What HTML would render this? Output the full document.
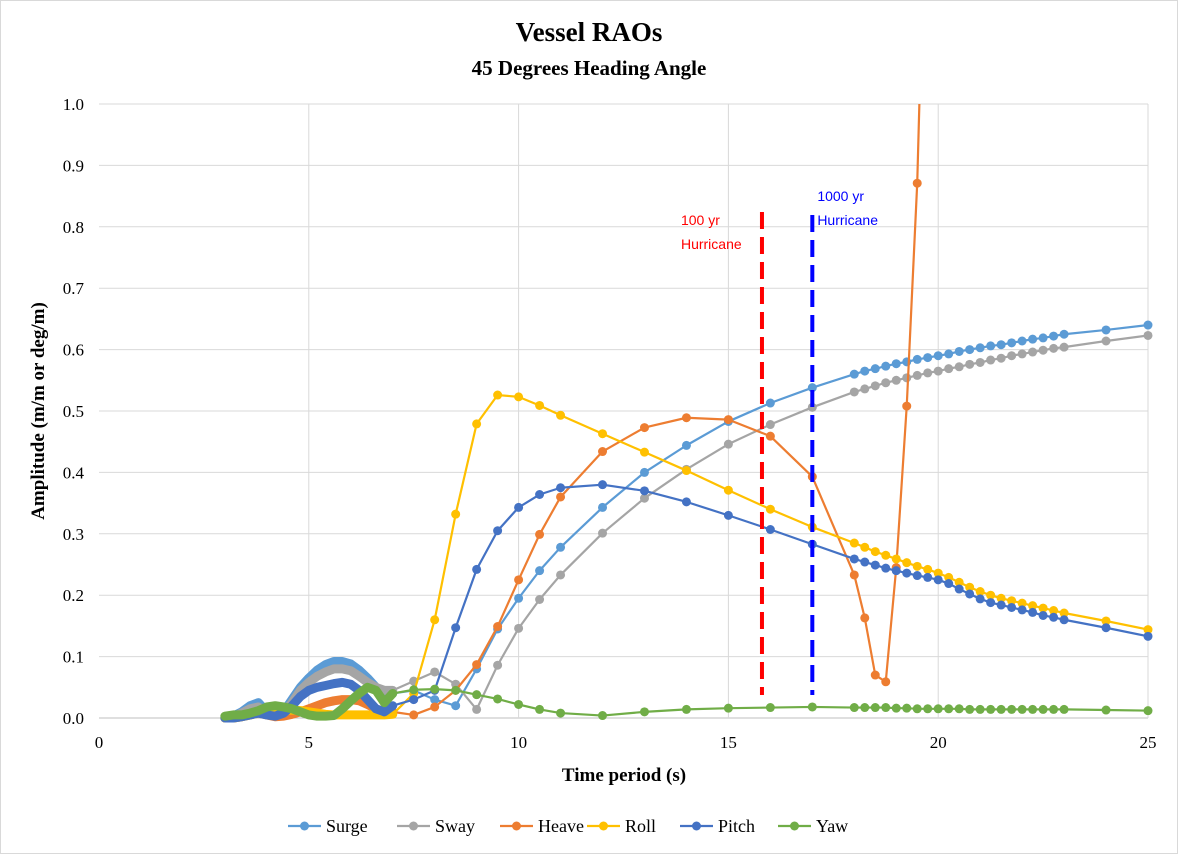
<!DOCTYPE html>
<html><head><meta charset="utf-8"><style>
body{margin:0;background:#fff}
svg{display:block;font-family:"Liberation Serif",serif}
</style></head><body>
<svg id="chart" width="1179" height="855">
<rect x="0.5" y="0.5" width="1177" height="853" fill="#fff" stroke="#d9d9d9"/>
<text x="589" y="41" text-anchor="middle" font-size="27" font-weight="bold">Vessel RAOs</text>
<text x="589" y="75" text-anchor="middle" font-size="21" font-weight="bold">45 Degrees Heading Angle</text>
<g id="grid"></g><g id="axes"></g><g id="series"></g><g id="annot"></g>
<text x="624" y="781" text-anchor="middle" font-size="19" font-weight="bold">Time period (s)</text>
<text transform="translate(44,411) rotate(-90)" text-anchor="middle" font-size="19" font-weight="bold">Amplitude (m/m or deg/m)</text>
<g id="legend"></g>
</svg>
<script>
const dense=[3.0,3.2,3.4,3.6,3.8,4.0,4.2,4.4,4.6,4.8,5.0,5.2,5.4,5.6,5.8,6.0,6.2,6.4,6.6,6.8,7.0];
const mid=[7.5,8,8.5,9,9.5,10,10.5,11,12,13,14,15,16,17];
const tail=[18,18.25,18.5,18.75,19,19.25,19.5,19.75,20,20.25,20.5,20.75,21,21.25,21.5,21.75,22,22.25,22.5,22.75,23,24,25];
const periods=dense.concat(mid,tail);
const surge=[0,0.003,0.01,0.02,0.025,0.01,0.005,0.01,0.03,0.05,0.065,0.078,0.087,0.092,0.092,0.088,0.078,0.065,0.05,0.04,0.04,
0.045,0.03,0.02,0.08,0.145,0.195,0.24,0.278,0.343,0.4,0.444,0.483,0.513,0.538,
0.560,0.565,0.569,0.573,0.577,0.580,0.584,0.587,0.590,0.593,0.597,0.600,0.603,0.606,0.608,0.611,0.614,0.617,0.619,0.622,0.625,0.632,0.64];
const sway=[0,0.002,0.008,0.015,0.018,0.01,0.005,0.008,0.025,0.045,0.058,0.068,0.075,0.08,0.08,0.077,0.068,0.058,0.05,0.045,0.045,
0.06,0.075,0.055,0.014,0.086,0.146,0.193,0.233,0.301,0.358,0.405,0.446,0.478,0.506,
0.531,0.536,0.541,0.546,0.550,0.554,0.558,0.562,0.565,0.569,0.572,0.576,0.579,0.583,0.586,0.590,0.593,0.596,0.599,0.602,0.604,0.614,0.623];
const heave=[0,0,0.002,0.005,0.008,0.005,0.002,0.003,0.006,0.01,0.015,0.02,0.025,0.028,0.03,0.03,0.028,0.022,0.015,0.01,0.01,
0.005,0.018,0.045,0.087,0.149,0.225,0.299,0.36,0.434,0.473,0.489,0.486,0.459,0.393,
0.233,0.163,0.07,0.059,0.245,0.508,0.871,1.5];
const roll=[0,0,0.002,0.005,0.008,0.01,0.012,0.012,0.013,0.012,0.01,0.008,0.006,0.005,0.005,0.005,0.005,0.005,0.005,0.005,0.006,
0.04,0.16,0.332,0.479,0.526,0.523,0.509,0.493,0.463,0.433,0.403,0.371,0.34,0.311,
0.285,0.278,0.271,0.265,0.259,0.253,0.247,0.242,0.236,0.229,0.221,0.213,0.206,0.200,0.195,0.191,0.187,0.183,0.179,0.175,0.171,0.158,0.144];
const pitch=[0,0,0.002,0.005,0.008,0.005,0.003,0.008,0.02,0.035,0.045,0.05,0.053,0.056,0.058,0.055,0.045,0.03,0.015,0.01,0.02,
0.03,0.045,0.147,0.242,0.305,0.343,0.364,0.375,0.38,0.37,0.352,0.33,0.307,0.283,
0.259,0.254,0.249,0.244,0.240,0.236,0.232,0.229,0.225,0.219,0.210,0.202,0.194,0.188,0.184,0.180,0.176,0.172,0.167,0.164,0.160,0.147,0.133];
const yaw=[0.003,0.005,0.005,0.008,0.012,0.018,0.02,0.018,0.015,0.01,0.005,0.003,0.003,0.004,0.015,0.028,0.04,0.05,0.045,0.025,0.04,
0.046,0.047,0.045,0.038,0.031,0.022,0.014,0.008,0.004,0.01,0.014,0.016,0.017,0.018,
0.017,0.017,0.017,0.017,0.016,0.016,0.015,0.015,0.015,0.015,0.015,0.014,0.014,0.014,0.014,0.014,0.014,0.014,0.014,0.014,0.014,0.013,0.012];
const seriesNames=["Surge","Sway","Heave","Roll","Pitch","Yaw"];
const seriesColors=["#5b9bd5","#a5a5a5","#ed7d31","#ffc000","#4472c4","#70ad47"];
const xTicks=[0,5,10,15,20,25];
const yTicks=[0,0.1,0.2,0.3,0.4,0.5,0.6,0.7,0.8,0.9,1.0];
const markers=[{x:15.8,label1:"100 yr",label2:"Hurricane",color:"#ff0000"},{x:17.0,label1:"1000 yr",label2:"Hurricane",color:"#0000ff"}];

const NS="http://www.w3.org/2000/svg";
const L=99,R=1148,T=104,B=718;
const X=v=>L+(v-0)/(25-0)*(R-L);
const Y=v=>B-(v-0)/(1-0)*(B-T);
function mk(tag,attrs,parent){const e=document.createElementNS(NS,tag);for(const k in attrs)e.setAttribute(k,attrs[k]);parent.appendChild(e);return e;}
const grid=document.getElementById('grid'),axes=document.getElementById('axes');
yTicks.forEach(t=>{
 const l=mk('line',{x1:L,x2:R,y1:Y(t),y2:Y(t),stroke:t===0?'#bfbfbf':'#d9d9d9','stroke-width':1},grid);
 
 
 const tx=mk('text',{x:L-15,y:Y(t)+6,'text-anchor':'end','font-size':17},axes);
 tx.textContent=t.toFixed(1);
 
 
});
xTicks.forEach(t=>{
 if(t>0){const l=mk('line',{x1:X(t),x2:X(t),y1:T,y2:B,stroke:'#d9d9d9','stroke-width':1},grid);
 
 }
 const tx=mk('text',{x:X(t),y:B+30,'text-anchor':'middle','font-size':17},axes);
 tx.textContent=t;
 
 
});
const sg=document.getElementById('series');
mk('clipPath',{id:'clip'},sg).appendChild(document.createElementNS(NS,'rect'));
const cr=sg.querySelector('#clip rect');cr.setAttribute('x',L-10);cr.setAttribute('y',T);cr.setAttribute('width',R-L+20);cr.setAttribute('height',B-T+20);
const data=[surge,sway,heave,roll,pitch,yaw];
data.forEach((vals,i)=>{
 const g=mk('g',{'clip-path':'url(#clip)'},sg);
 
 
 const pts=vals.map((v,j)=>X(periods[j])+','+Y(v)).join(' ');
 const pl=mk('polyline',{points:pts,fill:'none',stroke:seriesColors[i],'stroke-width':2.2,'stroke-linejoin':'round'},g);
 
 
 const dpts=vals.slice(0,dense.length).map((v,j)=>X(periods[j])+','+Y(v)).join(' ');
 const dl=mk('polyline',{points:dpts,fill:'none',stroke:seriesColors[i],'stroke-width':9,'stroke-linejoin':'round','stroke-linecap':'round'},g);
 
 
 vals.forEach((v,j)=>{
  if(j<dense.length)return;
  const c=mk('circle',{cx:X(periods[j]),cy:Y(v),r:4.5,fill:seriesColors[i]},g);
  
  
 });
});
const an=document.getElementById('annot');
markers.forEach((m,i)=>{
 const l=mk('line',{x1:X(m.x),x2:X(m.x),y1:i?215:212,y2:695,stroke:m.color,'stroke-width':4,'stroke-dasharray':'17,8'},an);
 
 
 const lx=i?X(m.x)+5:X(m.x)-81, ly=i?201:225;
 const t1=mk('text',{x:lx,y:ly,fill:m.color,'font-size':14,'font-family':'Liberation Sans, sans-serif'},an);
 t1.textContent=m.label1;
 
 
 const t2=mk('text',{x:lx,y:ly+24,fill:m.color,'font-size':14,'font-family':'Liberation Sans, sans-serif'},an);
 t2.textContent=m.label2;
 
 
});
const lg=document.getElementById('legend');
const lx=[288,397,500,587,680,778];
seriesNames.forEach((n,i)=>{
 const g=mk('g',{},lg);
 
 
 mk('line',{x1:lx[i],x2:lx[i]+33,y1:826,y2:826,stroke:seriesColors[i],'stroke-width':2.2},g);
 mk('circle',{cx:lx[i]+16.5,cy:826,r:4.5,fill:seriesColors[i]},g);
 const t=mk('text',{x:lx[i]+38,y:832,'font-size':18},g);
 t.textContent=n;
});
</script>
</body></html>
